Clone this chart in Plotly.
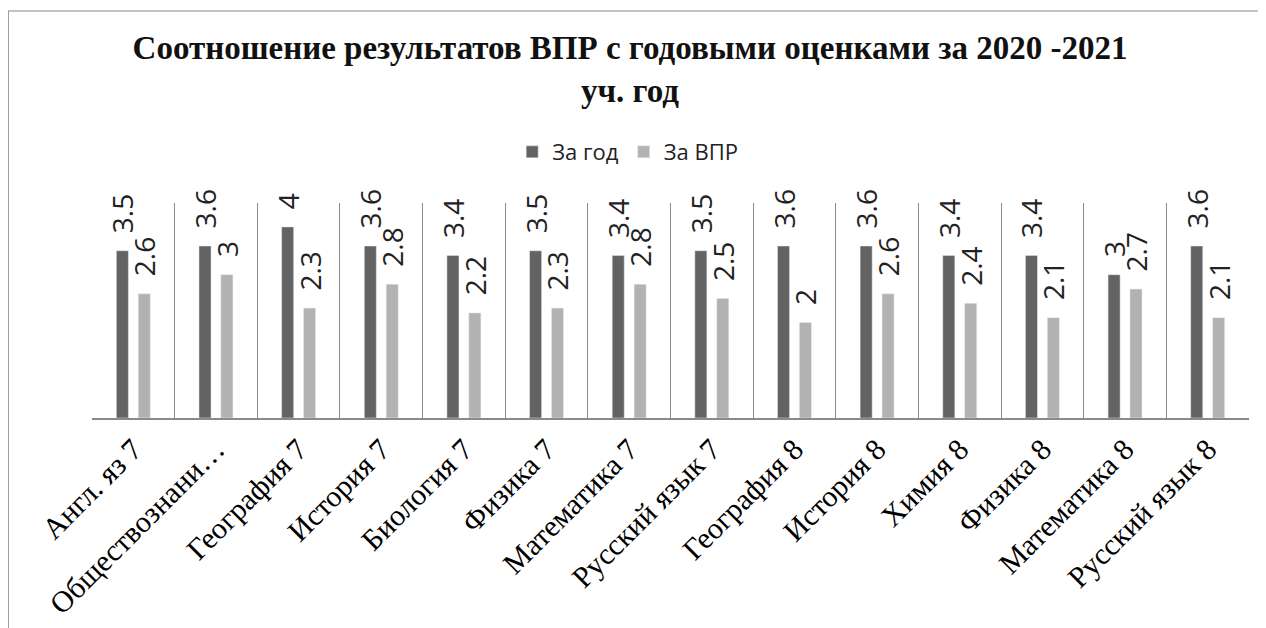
import plotly.graph_objects as go

categories = ["Англ. яз 7", "Обществознани…", "География 7", "История 7", "Биология 7",
              "Физика 7", "Математика 7", "Русский язык 7", "География 8", "История 8",
              "Химия 8", "Физика 8", "Математика 8", "Русский язык 8"]
za_god = [3.5, 3.6, 4, 3.6, 3.4, 3.5, 3.4, 3.5, 3.6, 3.6, 3.4, 3.4, 3, 3.6]
za_vpr = [2.6, 3, 2.3, 2.8, 2.2, 2.3, 2.8, 2.5, 2, 2.6, 2.4, 2.1, 2.7, 2.1]

label_font = dict(family="Open Sans, Liberation Sans, sans-serif", size=28, color="#222222")
pad = "\u00a0\u00a0"

fig = go.Figure()
fig.add_trace(go.Bar(
    x=categories, y=za_god, name="За год", marker_color="#636363",
    text=[pad + f"{v:g}" for v in za_god], textposition="outside", textangle=-90,
    constraintext="none", textfont=label_font, cliponaxis=False,
))
fig.add_trace(go.Bar(
    x=categories, y=za_vpr, name="За ВПР", marker_color="#b2b2b2",
    text=[pad + f"{v:g}" for v in za_vpr], textposition="outside", textangle=-90,
    constraintext="none", textfont=label_font, cliponaxis=False,
))

fig.update_layout(
    width=1266, height=628,
    paper_bgcolor="white", plot_bgcolor="white",
    margin=dict(l=84, r=25, t=195, b=218, autoexpand=False),
    barmode="group", bargap=0.47, bargroupgap=0.45,
    title=dict(
        text="<b>Соотношение результатов ВПР с годовыми оценками за 2020 -2021<br>уч. год</b>",
        x=0.4913, xanchor="center", y=0.918, yanchor="top",
        font=dict(family="Liberation Serif, Times New Roman, serif", size=33, color="#111111"),
    ),
    legend=dict(
        orientation="h", x=0.463, xanchor="center", y=1.237, yanchor="middle",
        font=dict(family="Open Sans, Liberation Sans, sans-serif", size=22, color="#222222"),
        itemwidth=30, traceorder="normal",
    ),
    showlegend=True,
)
fig.update_xaxes(
    tickson="boundaries", showgrid=True, gridcolor="#8a8a8a", gridwidth=1,
    showline=True, linecolor="#8a8a8a", linewidth=1.5, ticks="",
    tickangle=-45, automargin=False,
    tickfont=dict(family="Liberation Serif, Times New Roman, serif", size=30, color="#000000"),
)
fig.update_yaxes(range=[0, 4.5], showgrid=False, showticklabels=False, zeroline=False,
                 showline=False, automargin=False)

# outer chart border
fig.add_shape(type="line", xref="paper", yref="paper", x0=-0.0726, x1=1.1, y0=1.893, y1=1.893,
              line=dict(color="#b0b0b0", width=1.5))
fig.add_shape(type="line", xref="paper", yref="paper", x0=-0.0726, x1=-0.0726, y0=1.893, y1=-1.1,
              line=dict(color="#808080", width=1.5))

fig.write_html("out.html")
